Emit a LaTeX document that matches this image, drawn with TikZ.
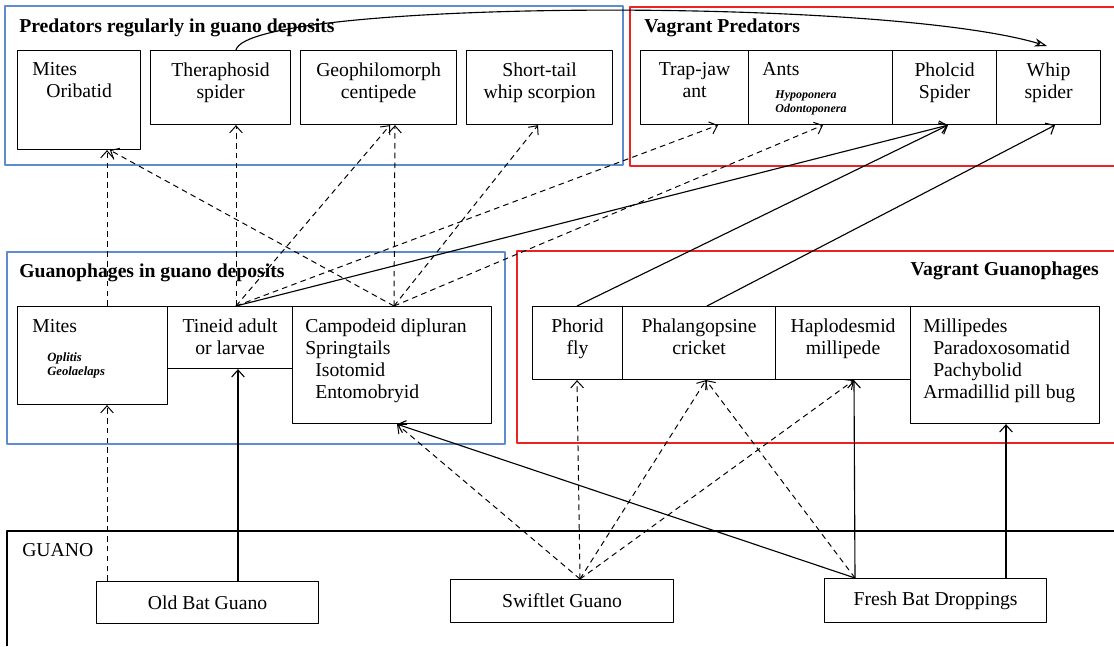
\documentclass[tikz,border=0pt]{standalone}
\usepackage{fontspec}
\setmainfont{Liberation Serif}
\usetikzlibrary{positioning,calc,arrows.meta}
\definecolor{grpblue}{RGB}{95,140,205}
\definecolor{grpred}{RGB}{235,35,35}
\tikzset{
  box/.style={draw, line width=0.8pt, anchor=north west, inner sep=0pt},
  txt/.style={inner sep=0pt, align=center},
  txtl/.style={inner sep=0pt, align=left},
  spp/.style={inner sep=0pt, align=left, font=\fontsize{8.5}{10}\selectfont\bfseries\itshape},
  grp/.style={inner sep=0pt, anchor=base west, font=\fontsize{14}{16}\selectfont\bfseries},
  eat/.style={-{Straight Barb[length=5pt,width=9pt]}, line width=0.8pt},
  eatd/.style={eat, line width=0.7pt, dash pattern=on 4pt off 3pt},
}
\begin{document}
\begin{tikzpicture}[x=0.025cm, y=-0.025cm, font=\fontsize{14}{15.6}\selectfont, line join=round]
	\useasboundingbox (0,0) rectangle (1114,646);
	% frames
	\draw[grpblue, line width=0.8pt] (5,6) rectangle (623,165);
	\draw[grpred, line width=0.8pt] (1114,7) -- (630,7) -- (630,166) -- (1114,166);
	\draw[grpblue, line width=0.8pt] (7,252) rectangle (505,444);
	\draw[grpred, line width=0.8pt] (1114,251) -- (517,251) -- (517,443) -- (1114,443);
	\draw[line width=0.8pt] (1114,531) -- (7,531) -- (7,646);
	\node[grp] (predT) at (19,32) {Predators regularly in guano deposits};
	\node[grp] (vpredT) at (644,32) {Vagrant Predators};
	\node[grp] (guanT) at (19,277) {Guanophages in guano deposits};
	\node[grp, anchor=base east] (vguanT) at (1099,275) {Vagrant Guanophages};
	\node[inner sep=0pt, anchor=base west] (guanoT) at (22,556) {GUANO};
	% predators
	\node[box, minimum width=3.075cm, minimum height=2.475cm] (mitP) at (17,50) {};
	\node[box, minimum width=3.5cm, minimum height=1.85cm] (ther) at (150,50) {};
	\node[box, minimum width=3.9cm, minimum height=1.85cm] (geo) at (300,50) {};
	\node[box, minimum width=3.65cm, minimum height=1.85cm] (stail) at (466,50) {};
	\node[box, minimum width=2.7cm, minimum height=1.85cm] (trap) at (640,50) {};
	\node[box, minimum width=3.6cm, minimum height=1.85cm] (ants) at (748,50) {};
	\node[box, minimum width=2.6cm, minimum height=1.85cm] (phol) at (892,50) {};
	\node[box, minimum width=2.6cm, minimum height=1.85cm] (whip) at (996,50) {};
	\node[txtl, below right=0.31cm and 0.375cm of mitP.north west] (mitPt) {Mites\\\hspace{0.35cm}Oribatid};
	\node[txt, below=0.31cm of ther.north] (thert) {Theraphosid\\spider};
	\node[txt, below=0.31cm of geo.north] (geot) {Geophilomorph\\centipede};
	\node[txt, below=0.31cm of stail.north] (stailt) {Short-tail\\whip scorpion};
	\node[txt, below=0.31cm of trap.north] (trapt) {Trap-jaw\\ant};
	\node[txtl, below right=0.31cm and 0.35cm of ants.north west] (antst) {Ants};
	\node[spp, below right=1.0cm and 0.68cm of ants.north west] (antssp) {Hypoponera\\Odontoponera};
	\node[txt, below=0.31cm of phol.north] (pholt) {Pholcid\\Spider};
	\node[txt, below=0.31cm of whip.north] (whipt) {Whip\\spider};
	% guanophages
	\node[box, minimum width=3.75cm, minimum height=2.45cm] (mitG) at (17,306) {};
	\node[box, minimum width=3.125cm, minimum height=1.55cm] (tin) at (167,306) {};
	\node[box, minimum width=4.975cm, minimum height=2.925cm] (camp) at (292,306) {};
	\node[box, minimum width=2.25cm, minimum height=1.825cm] (phor) at (532,306) {};
	\node[box, minimum width=3.825cm, minimum height=1.825cm] (phal) at (622,306) {};
	\node[box, minimum width=3.375cm, minimum height=1.825cm] (hap) at (775,306) {};
	\node[box, minimum width=4.725cm, minimum height=2.925cm] (mill) at (910,306) {};
	\node[txtl, below right=0.32cm and 0.375cm of mitG.north west] (mitGt) {Mites};
	\node[spp, font=\fontsize{9}{10.5}\selectfont\bfseries\itshape, below right=1.15cm and 0.75cm of mitG.north west] (mitGsp) {Oplitis\\Geolaelaps};
	\node[txt, below=0.32cm of tin.north] (tint) {Tineid adult\\or larvae};
	\node[txtl, below right=0.32cm and 0.325cm of camp.north west] (campt) {Campodeid dipluran\\Springtails\\\hspace{0.25cm}Isotomid\\\hspace{0.25cm}Entomobryid};
	\node[txt, below=0.32cm of phor.north] (phort) {Phorid\\fly};
	\node[txt, below=0.32cm of phal.north] (phalt) {Phalangopsine\\cricket};
	\node[txt, below=0.32cm of hap.north] (hapt) {Haplodesmid\\millipede};
	\node[txtl, below right=0.32cm and 0.325cm of mill.north west] (millt) {Millipedes\\\hspace{0.25cm}Paradoxosomatid\\\hspace{0.25cm}Pachybolid\\Armadillid pill bug};
	% guano sources
	\node[box, minimum width=5.55cm, minimum height=1.05cm] (old) at (96,581) {Old Bat Guano};
	\node[box, minimum width=5.575cm, minimum height=1.075cm] (swift) at (450,579) {Swiftlet Guano};
	\node[box, minimum width=5.55cm, minimum height=1.1cm] (fresh) at (824,578) {Fresh Bat Droppings};
	% feeding links
	\draw[eatd] ($(mitG.north west)+(90,0)$) -- ($(mitP.south west)+(90,0)$);
	\draw[eatd] ($(camp.north west)+(102,0)$) -- ($(mitP.south west)+(93,0)$);
	\draw[eatd] ($(tin.north west)+(69,0)$) -- ($(ther.south west)+(86,0)$);
	\draw[eatd] ($(tin.north west)+(69,0)$) -- ($(geo.south west)+(90,0)$);
	\draw[eatd] ($(camp.north west)+(102,0)$) -- ($(geo.south west)+(95,0)$);
	\draw[eatd] ($(camp.north west)+(102,0)$) -- ($(stail.south west)+(72,0)$);
	\draw[eatd] ($(tin.north west)+(69,0)$) -- ($(trap.south west)+(78,0)$);
	\draw[eatd] ($(camp.north west)+(102,0)$) -- ($(ants.south west)+(75,0)$);
	\draw[eat] ($(tin.north west)+(69,0)$) -- ($(phol.south west)+(56,0)$);
	\draw[eat] ($(phor.north west)+(45,0)$) -- ($(phol.south west)+(56,0)$);
	\draw[eat] ($(phal.north west)+(85,0)$) -- ($(whip.south west)+(59,0)$);
	\draw[-{Stealth[open,length=9pt,width=6pt]}, line width=0.8pt] ($(ther.north west)+(86,0)$) .. controls (248,0) and (880,-4) .. ($(whip.north west)+(51,-4)$);
	\draw[eatd] ($(old.north west)+(11,0)$) -- ($(mitG.south west)+(90,0)$);
	\draw[eat] ($(old.north west)+(142,0)$) -- ($(tin.south west)+(71,0)$);
	\draw[eatd] ($(swift.north west)+(130,0)$) -- ($(camp.south west)+(105,0)$);
	\draw[eatd] ($(swift.north west)+(130,0)$) -- ($(phor.south west)+(45,0)$);
	\draw[eatd] ($(swift.north west)+(130,0)$) -- ($(phal.south west)+(84,0)$);
	\draw[eatd] ($(swift.north west)+(130,0)$) -- ($(hap.south west)+(79,0)$);
	\draw[eat] ($(fresh.north west)+(31,0)$) -- ($(camp.south west)+(105,0)$);
	\draw[eatd] ($(fresh.north west)+(31,0)$) -- ($(phal.south west)+(84,0)$);
	\draw[eat] ($(fresh.north west)+(31,0)$) -- ($(hap.south west)+(79,0)$);
	\draw[eat] ($(fresh.north west)+(182,0)$) -- ($(mill.south west)+(96,0)$);
\end{tikzpicture}
\end{document}
